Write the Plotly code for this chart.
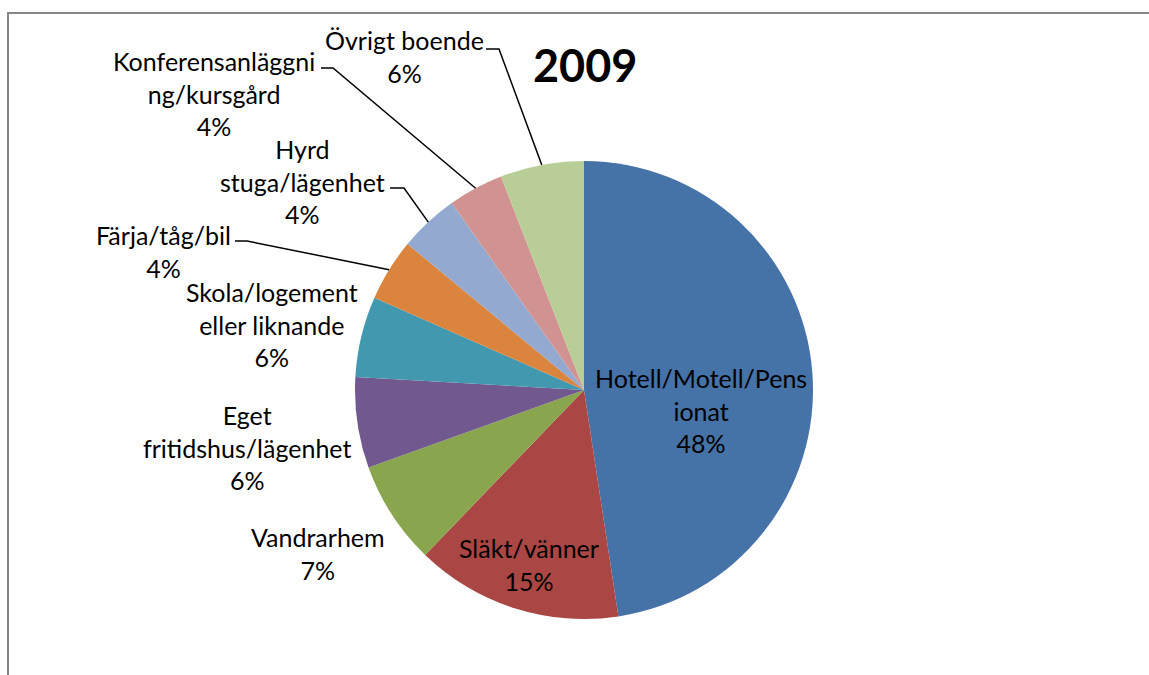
import math
import plotly.graph_objects as go

# ---- data ----
categories = [
    "Hotell/Motell/Pensionat", "Släkt/vänner", "Vandrarhem",
    "Eget fritidshus/lägenhet", "Skola/logement eller liknande",
    "Färja/tåg/bil", "Hyrd stuga/lägenhet",
    "Konferensanläggning/kursgård", "Övrigt boende",
]
values = [47.6, 14.6, 7.3, 6.4, 5.7, 4.4, 4.2, 3.9, 5.9]
label_lines = [
    "Hotell/Motell/Pens<br>ionat", "Släkt/vänner", "Vandrarhem",
    "Eget<br>fritidshus/lägenhet", "Skola/logement<br>eller liknande",
    "Färja/tåg/bil", "Hyrd<br>stuga/lägenhet",
    "Konferensanläggni<br>ng/kursgård", "Övrigt boende",
]
colors = ["#4572A7", "#AA4643", "#89A54E", "#71588F", "#4198AF",
          "#DB843D", "#93A9CF", "#D19392", "#B9CD96"]
title_text = "2009"

# ---- layout geometry (pixels) ----
W, H = 1149, 675
CX, CY, R = 584, 390, 229
FONT = "Lato"

def px(x):
    return x / W

def py(y):
    return 1 - y / H

# label block centers (pixels) and leader elbows
label_pos = [(701, 410), (529, 564), (318, 553), (247, 447), (272, 324),
             (163, 252), (302, 181), (214, 93), (404, 57)]
leaders = {  # index: (start, elbow)
    8: ((486, 49), (499, 49)),
    7: ((321, 68), (333, 68)),
    6: ((390, 188), (404, 188)),
    5: ((235, 241), (247, 241)),
}

fig = go.Figure()
fig.add_trace(go.Pie(
    labels=categories, values=values, sort=False, direction="clockwise",
    rotation=0, textinfo="none", hoverinfo="label+percent",
    marker=dict(colors=colors, line=dict(width=0)),
    domain=dict(x=[px(CX - R), px(CX + R)], y=[py(CY + R), py(CY - R)]),
    showlegend=False,
))

total = sum(values)
annotations = []
for i, (txt, v) in enumerate(zip(label_lines, values)):
    pct = round(v / total * 100)
    x, y = label_pos[i]
    annotations.append(dict(
        x=px(x), y=py(y), xref="paper", yref="paper",
        text=f"{txt}<br>{pct}%", showarrow=False, align="center",
        xanchor="center", yanchor="middle",
        font=dict(family=FONT, size=25, color="#000000"),
    ))
annotations.append(dict(
    x=px(585), y=py(65), xref="paper", yref="paper", text=f"<b>{title_text}</b>",
    showarrow=False, xanchor="center", yanchor="middle",
    font=dict(family=FONT, size=45, color="#000000"),
))

# chart-area border: only the top and left edges are visible in the frame
shapes = [dict(type="path", xref="paper", yref="paper",
               path=f"M {px(8)} -0.05 L {px(8)} {py(13)} L 1.05 {py(13)}",
               line=dict(color="#868686", width=2))]

cum = 0
for i, v in enumerate(values):
    mid = (cum + v / 2) / total
    cum += v
    if i in leaders:
        theta = 2 * math.pi * mid
        ex = CX + R * math.sin(theta)
        ey = CY - R * math.cos(theta)
        (sx, sy), (bx, by) = leaders[i]
        path = f"M {px(sx)} {py(sy)} L {px(bx)} {py(by)} L {px(ex)} {py(ey)}"
        shapes.append(dict(type="path", xref="paper", yref="paper", path=path,
                           line=dict(color="#000000", width=1.5)))

fig.update_layout(
    width=W, height=H, margin=dict(l=0, r=0, t=0, b=0),
    paper_bgcolor="#FFFFFF", plot_bgcolor="#FFFFFF",
    annotations=annotations, shapes=shapes,
)
fig.write_html("out.html", config={"displayModeBar": False},
               post_script="document.body.style.margin='0';document.body.style.overflow='hidden';")
